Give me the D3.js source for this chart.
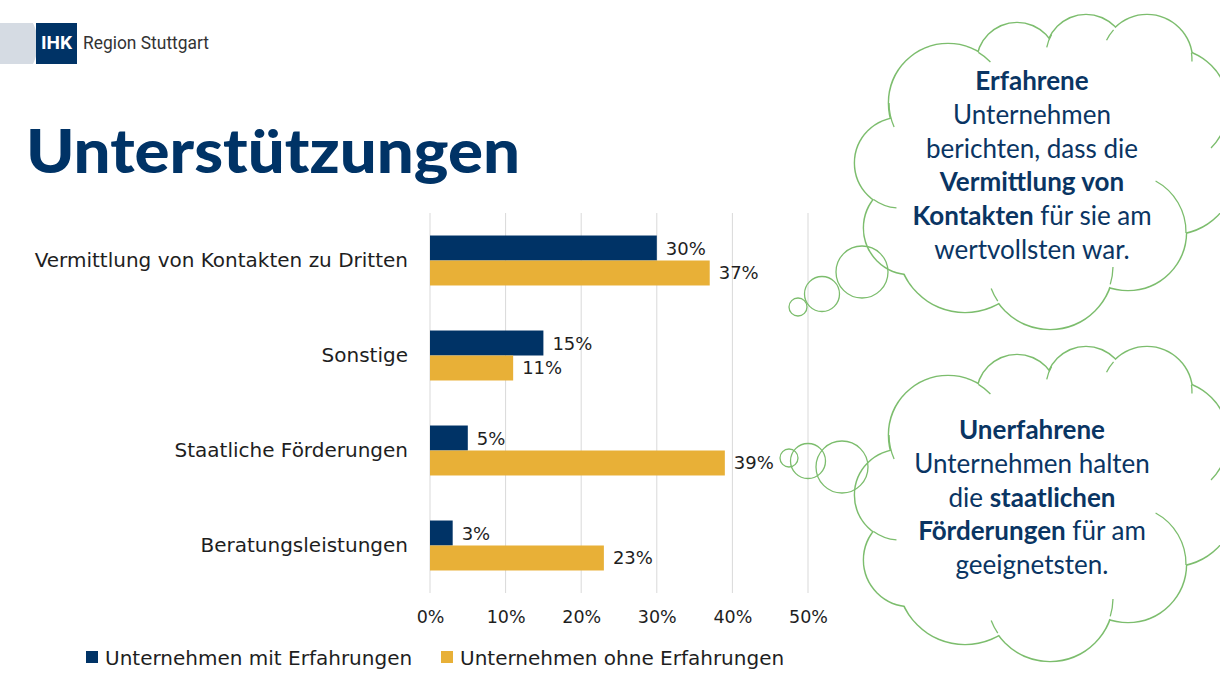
<!DOCTYPE html>
<html><head><meta charset="utf-8">
<script src="https://cdn.jsdelivr.net/npm/d3@7"></script>
<style>body{margin:0;background:#fff}svg{display:block}</style>
</head><body>
<svg id="c" width="1220" height="690"></svg>
<script>
// ---- data ----
const categories = ["Vermittlung von Kontakten zu Dritten", "Sonstige", "Staatliche Förderungen", "Beratungsleistungen"];
const seriesNames = ["Unternehmen mit Erfahrungen", "Unternehmen ohne Erfahrungen"];
const valuesMit = [30, 15, 5, 3];
const valuesOhne = [37, 11, 39, 23];
const xTicks = [0, 10, 20, 30, 40, 50];
const title = "Unterstützungen";
const cloud1Lines = [
  [["Erfahrene", true]],
  [["Unternehmen", false]],
  [["berichten, dass die", false]],
  [["Vermittlung von", true]],
  [["Kontakten", true], [" für sie am", false]],
  [["wertvollsten war.", false]]
];
const cloud2Lines = [
  [["Unerfahrene", true]],
  [["Unternehmen halten", false]],
  [["die ", false], ["staatlichen", true]],
  [["Förderungen", true], [" für am", false]],
  [["geeignetsten.", false]]
];

const NAVY = "#003366", YELLOW = "#E8B037", GREEN = "#7cbd6d", TEXT = "#1e1e1e";
const svg = d3.select("#c");
svg.append("rect").attr("width", 1220).attr("height", 690).attr("fill", "#fff");

// ---- logo ----
const logo = svg.append("g");
logo.append("path").attr("d", "M0,23 L33,23 Q43,43.5 33,64 L0,64 Z").attr("fill", "#d5dbe3");
logo.append("rect").attr("x", 36).attr("y", 23).attr("width", 41).attr("height", 41).attr("fill", NAVY);
logo.append("text").attr("x", 56.5).attr("y", 44).attr("text-anchor", "middle").attr("dominant-baseline", "middle")
  .attr("font-family", "Roboto, sans-serif").attr("font-weight", "bold").attr("font-size", 19).attr("fill", "#fff").text("IHK");
logo.append("text").attr("x", 83).attr("y", 44).attr("dominant-baseline", "middle").attr("textLength", 126).attr("lengthAdjust", "spacingAndGlyphs")
  .attr("font-family", "Roboto, sans-serif").attr("font-size", 19).attr("fill", "#333").text("Region Stuttgart");

// ---- title ----
svg.append("text").attr("x", 26).attr("y", 173).attr("textLength", 494).attr("lengthAdjust", "spacingAndGlyphs")
  .attr("font-family", "Lato, sans-serif").attr("font-weight", 900).attr("font-size", 60).attr("fill", NAVY).text(title);

// ---- chart ----
const x = d3.scaleLinear().domain([0, 50]).range([430, 808]);
const y = d3.scaleBand().domain(categories).range([213, 593]).paddingInner(0.474).paddingOuter(0.237);
const ySub = d3.scaleBand().domain(seriesNames).range([0, y.bandwidth()]);
const FONT = "'DejaVu Sans', sans-serif";

const grid = svg.append("g");
grid.selectAll("line").data(xTicks).join("line")
  .attr("x1", d => x(d)).attr("x2", d => x(d)).attr("y1", 213).attr("y2", 593)
  .attr("stroke", "#d9d9d9").attr("stroke-width", 1);

const xAxis = d3.axisBottom(x).tickValues(xTicks).tickFormat(d => d + "%").tickSize(0);
const ax = svg.append("g").attr("transform", "translate(0,608)").call(xAxis);
ax.select(".domain").remove();
ax.selectAll("text").attr("font-family", FONT).attr("font-size", 17.5).attr("fill", TEXT);

const yAxis = d3.axisLeft(y).tickSize(0).tickPadding(22);
const ay = svg.append("g").attr("transform", "translate(430,0)").call(yAxis);
ay.select(".domain").remove();
ay.selectAll("text").attr("font-family", FONT).attr("font-size", 20).attr("fill", TEXT);

const rows = categories.map((c, i) => ({ c, vals: [valuesMit[i], valuesOhne[i]] }));
const colors = [NAVY, YELLOW];
const g = svg.append("g");
rows.forEach(r => {
  r.vals.forEach((v, j) => {
    const yy = y(r.c) + ySub(seriesNames[j]);
    g.append("rect").attr("x", x(0)).attr("y", yy).attr("width", x(v) - x(0)).attr("height", ySub.bandwidth()).attr("fill", colors[j]);
    g.append("text").attr("x", x(v) + 9).attr("y", yy + ySub.bandwidth() / 2).attr("dominant-baseline", "central")
      .attr("font-family", FONT).attr("font-size", 18).attr("fill", TEXT).text(v + "%");
  });
});

// ---- legend ----
const legX = [86, 441];
seriesNames.forEach((s, j) => {
  svg.append("rect").attr("x", legX[j]).attr("y", 651).attr("width", 12).attr("height", 12).attr("fill", colors[j]);
  svg.append("text").attr("x", legX[j] + 19).attr("y", 658).attr("dominant-baseline", "central")
    .attr("font-family", FONT).attr("font-size", 20).attr("fill", TEXT).text(s);
});

// ---- clouds ----
const lobes = [
  [900, 163, 45], [910, 228, 46], [965, 245, 67], [1050, 266, 63], [1128, 232, 58],
  [1172, 170, 64], [1170, 107, 58], [1147, 60, 45], [1086, 55, 40], [1017, 63, 40], [948, 103, 59]
];
const creases = [
  [948, 103, 59, 156, 180], [948, 103, 59, -59, -44], [1086, 55, 40, -169, -149.5],
  [1147, 60, 45, -154, -138], [1147, 60, 45, -9, 2], [1170, 107, 58, 27, 45],
  [1050, 266, 63, 1, 17], [1050, 266, 63, 146, 159], [900, 163, 45, 94.5, 126], [1128, 232, 58, -61.6, 1]
];
function drawCloud(dy, bubbles, lines, firstY) {
  const cg = svg.append("g").attr("transform", `translate(0,${dy})`);
  cg.selectAll(".o").data(lobes).join("circle").attr("cx", d => d[0]).attr("cy", d => d[1]).attr("r", d => d[2])
    .attr("fill", "#fff").attr("stroke", GREEN).attr("stroke-width", 2.6);
  cg.selectAll(".f").data(lobes).join("circle").attr("cx", d => d[0]).attr("cy", d => d[1]).attr("r", d => d[2] - 0.1)
    .attr("fill", "#fff");
  cg.append("ellipse").attr("cx", 1030).attr("cy", 170).attr("rx", 140).attr("ry", 105).attr("fill", "#fff");
  creases.forEach(c => {
    const p = d3.path();
    const a0 = c[3] * Math.PI / 180, a1 = c[4] * Math.PI / 180;
    p.moveTo(c[0] + c[2] * Math.cos(a0), c[1] + c[2] * Math.sin(a0));
    p.arc(c[0], c[1], c[2], a0, a1);
    cg.append("path").attr("d", p.toString()).attr("fill", "none").attr("stroke", GREEN).attr("stroke-width", 1.3);
  });
  svg.selectAll(null).data(bubbles).join("circle").attr("cx", d => d[0]).attr("cy", d => d[1]).attr("r", d => d[2])
    .attr("fill", "none").attr("stroke", GREEN).attr("stroke-width", 1.3);
  lines.forEach((ln, i) => {
    const t = svg.append("text").attr("x", 1032).attr("y", firstY + i * 33.8).attr("text-anchor", "middle")
      .attr("dominant-baseline", "central").attr("font-family", "Lato, sans-serif").attr("font-size", 26).attr("fill", "#0a3563");
    ln.forEach(([s, b]) => t.append("tspan").attr("font-weight", b ? "bold" : "normal").text(s));
  });
}
drawCloud(0, [[798, 307, 9], [822, 294, 17.5], [862, 272, 26]], cloud1Lines, 80);
drawCloud(332, [[789, 458, 9], [808, 461, 17.5], [842, 467, 26]], cloud2Lines, 429);
</script>
</body></html>
